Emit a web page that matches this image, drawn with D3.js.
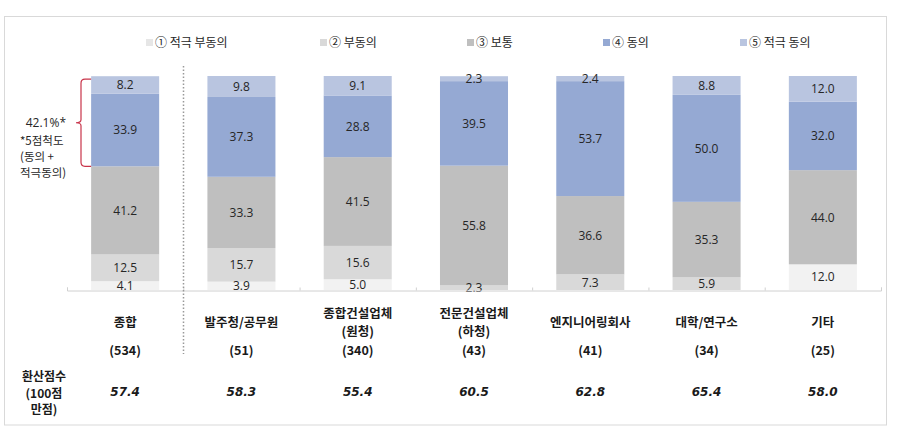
<!DOCTYPE html>
<html><head><meta charset="utf-8">
<script src="https://cdn.jsdelivr.net/npm/d3@7"></script>
<style>
body{margin:0;background:#fff;}
svg{display:block;}
</style></head>
<body><svg id="c" width="897" height="429"></svg>
<script>
const categories = ["종합","발주청/공무원","종합건설업체|(원청)","전문건설업체|(하청)","엔지니어링회사","대학/연구소","기타"];
const counts = ["(534)","(51)","(340)","(43)","(41)","(34)","(25)"];
const scores = ["57.4","58.3","55.4","60.5","62.8","65.4","58.0"];
const seriesNames = ["① 적극 부동의","② 부동의","③ 보통","④ 동의","⑤ 적극 동의"];
const stronglyDisagree = [4.1,3.9,5.0,0,0,0,12.0];
const disagree = [12.5,15.7,15.6,2.3,7.3,5.9,0];
const neutral = [41.2,33.3,41.5,55.8,36.6,35.3,44.0];
const agree = [33.9,37.3,28.8,39.5,53.7,50.0,32.0];
const stronglyAgree = [8.2,9.8,9.1,2.3,2.4,8.8,12.0];
const annotationValue = "42.1%*";
const annotationNote = ["*5점척도","(동의 +","적극동의)"];
const scoreTitle = ["환산점수","(100점","만점)"];

const colors = ["#f2f2f2","#d9d9d9","#bfbfbf","#95a9d3","#b9c5e0"];
const legendX = [146,320,467,603,740];
const seriesData = [stronglyDisagree, disagree, neutral, agree, stronglyAgree];

const svg = d3.select("#c");
const korFont = "'Noto Sans CJK KR', 'Malgun Gothic', sans-serif";

// frame
svg.append("rect").attr("x",4.5).attr("y",16.5).attr("width",882).attr("height",408.5)
  .attr("fill","none").attr("stroke","#d9d9d9");

const x = d3.scaleBand().domain(d3.range(categories.length)).range([67,881])
  .paddingInner(0.415).paddingOuter(0.2075);
const y = d3.scaleLinear().domain([0,100]).range([290,76]);

// stack
const rows = categories.map((c,i)=>{const o={idx:i}; seriesData.forEach((s,k)=>o["s"+k]=s[i]); return o;});
const keys = seriesData.map((s,k)=>"s"+k);
const stacked = d3.stack().keys(keys)(rows);

const g = svg.append("g");
stacked.forEach((layer,k)=>{
  const lg = g.append("g");
  lg.selectAll("rect").data(layer).join("rect")
    .attr("x",d=>x(d.data.idx)).attr("width",x.bandwidth())
    .attr("y",d=>y(d[1])).attr("height",d=>Math.max(0,y(d[0])-y(d[1])))
    .attr("fill",colors[k]);
});
stacked.forEach((layer,k)=>{
  g.append("g").selectAll("text").data(layer.filter(d=>d[1]-d[0]>0)).join("text")
    .attr("x",d=>x(d.data.idx)+x.bandwidth()/2)
    .attr("y",d=>(y(d[0])+y(d[1]))/2)
    .attr("dy","0.36em")
    .attr("text-anchor","middle")
    .attr("font-family","'Open Sans', 'Liberation Sans', sans-serif")
    .attr("font-size",12).attr("fill","#262626")
    .text(d=>(d[1]-d[0]).toFixed(1));
});

// axis
const axisScale = d3.scaleLinear().domain([0,categories.length]).range([67,881]);
const ax = svg.append("g").attr("transform","translate(0,290.5)")
  .call(d3.axisBottom(axisScale).ticks(categories.length).tickSize(-3).tickFormat(""));
ax.selectAll("path,line").attr("stroke","#d0d0d0");

// dotted separator
const sepX = (x(0)+x.bandwidth()+x(1))/2;
svg.append("line").attr("x1",Math.round(sepX)+0.5).attr("x2",Math.round(sepX)+0.5)
  .attr("y1",66).attr("y2",354).attr("stroke","#999").attr("stroke-width",1.5)
  .attr("stroke-dasharray","1.5,2");

// legend
const leg = svg.append("g");
seriesNames.forEach((n,k)=>{
  leg.append("rect").attr("x",legendX[k]).attr("y",39).attr("width",7).attr("height",7).attr("fill",colors[k]==="#f2f2f2"?"#e6e6e6":colors[k]);
  leg.append("text").attr("x",legendX[k]+9).attr("y",43).attr("dy","0.36em")
    .attr("font-family",korFont).attr("font-size",12).attr("fill","#262626").text(n);
});

// category labels
categories.forEach((c,i)=>{
  const lines = c.split("|");
  const cx = x(i)+x.bandwidth()/2;
  const y0 = lines.length>1 ? 313 : 322;
  lines.forEach((l,j)=>{
    svg.append("text").attr("x",cx).attr("y",y0+j*18).attr("dy","0.36em")
      .attr("text-anchor","middle").attr("font-family",korFont).attr("font-weight","bold")
      .attr("font-size",12.5).attr("fill","#1a1a1a").text(l);
  });
  svg.append("text").attr("x",cx).attr("y",350).attr("dy","0.36em")
    .attr("text-anchor","middle").attr("font-family",korFont).attr("font-weight","bold")
    .attr("font-size",12.5).attr("fill","#1a1a1a").text(counts[i]);
  svg.append("text").attr("x",cx).attr("y",392).attr("dy","0.36em")
    .attr("text-anchor","middle").attr("font-family","'DejaVu Sans', sans-serif").attr("font-weight","bold")
    .attr("font-style","italic").attr("font-size",12).attr("fill","#1a1a1a").text(scores[i]);
});
scoreTitle.forEach((t,j)=>{
  svg.append("text").attr("x",44).attr("y",377+j*16.5).attr("dy","0.36em")
    .attr("text-anchor","middle").attr("font-family",korFont).attr("font-weight","bold")
    .attr("font-size",12).attr("fill","#1a1a1a").text(t);
});

// bracket annotation on first bar
const topV = d3.sum(seriesData,s=>s[0]);
const lowV = topV - stronglyAgree[0] - agree[0];
const bTop = y(topV)+3, bBot = y(lowV);
const bx = 81, bMid = (bTop+bBot)/2;
svg.append("path")
  .attr("d",`M${x(0)},${bTop} L${bx+4},${bTop} Q${bx},${bTop} ${bx},${bTop+4} L${bx},${bMid-3} Q${bx},${bMid} ${bx-5},${bMid} Q${bx},${bMid} ${bx},${bMid+3} L${bx},${bBot-4} Q${bx},${bBot} ${bx+4},${bBot} L${x(0)},${bBot}`)
  .attr("fill","none").attr("stroke","#c8344a").attr("stroke-width",1.2);
svg.append("text").attr("x",66).attr("y",bMid).attr("dy","0.36em").attr("text-anchor","end")
  .attr("font-family","'Open Sans', sans-serif").attr("font-size",12).attr("fill","#262626").text(annotationValue);
annotationNote.forEach((t,j)=>{
  svg.append("text").attr("x",20).attr("y",141+j*16).attr("dy","0.36em")
    .attr("font-family",korFont).attr("font-size",11.5).attr("fill","#262626").text(t);
});
</script></body></html>
